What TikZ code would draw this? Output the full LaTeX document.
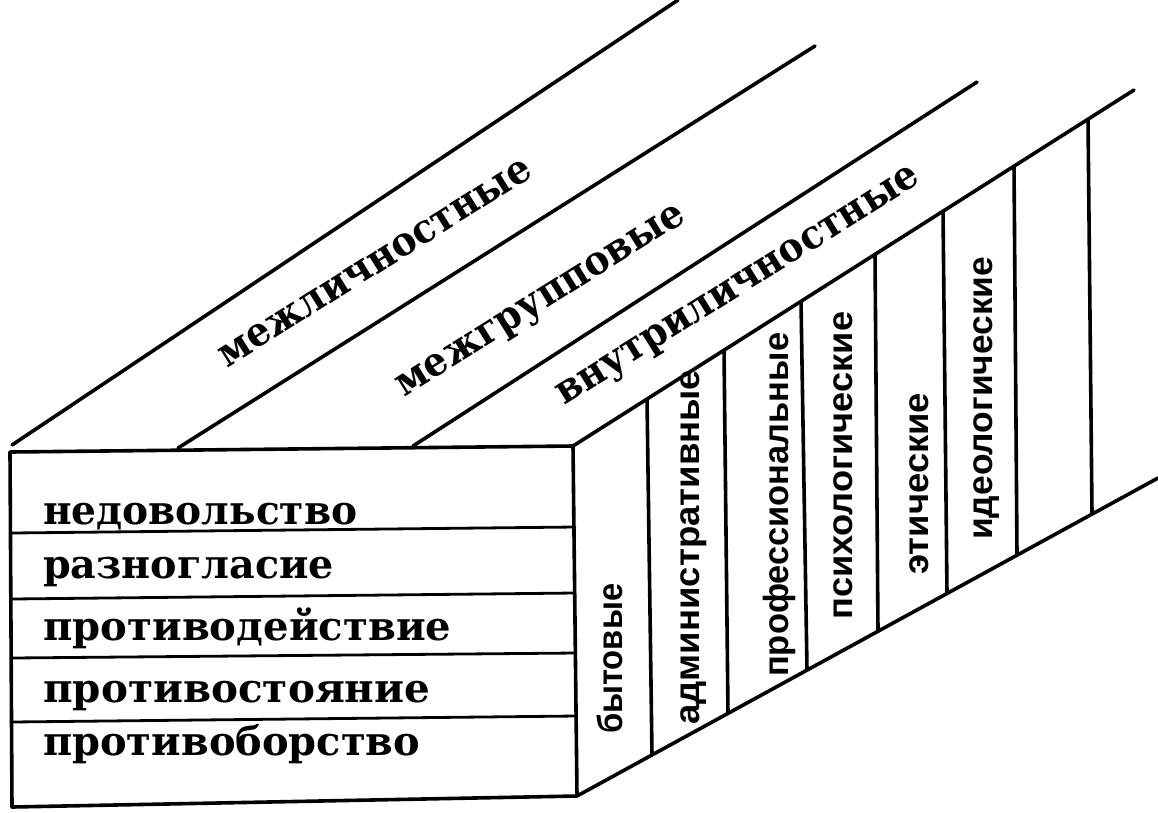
\documentclass[tikz,border=0pt]{standalone}
\usepackage{graphicx}
\usepackage{fontspec}
\setmainfont{DejaVu Serif}
\newfontfamily\vsans{Liberation Sans}
\newcommand{\fitw}[2]{\resizebox{#1pt}{\height}{#2}}
\tikzset{
  edge/.style={line width=3.6pt, line cap=round, line join=round},
  sep/.style={line width=2.8pt, line cap=round},
  rowtext/.style={anchor=base west, inner sep=0pt, font=\fontsize{40}{48}\selectfont\bfseries},
  toptext/.style={anchor=base, inner sep=0pt, rotate=32, font=\fontsize{40}{48}\selectfont\bfseries},
  sidetext/.style={anchor=base west, inner sep=0pt, rotate=90, font=\vsans\fontsize{35}{42}\selectfont\bfseries},
}
\begin{document}
\begin{tikzpicture}[x=1pt, y=-1pt]
\useasboundingbox (0,0) rectangle (1158,812);
% front box corners
\coordinate (TL) at (10,452);
\coordinate (TR) at (573,446);
\coordinate (BR) at (577,796);
\coordinate (BL) at (12,807);
% divider ends
\coordinate (L1) at (12,533); \coordinate (R1) at (575,527);
\coordinate (L2) at (12,599); \coordinate (R2) at (575,593);
\coordinate (L3) at (12,658); \coordinate (R3) at (576,653);
\coordinate (L4) at (12,722); \coordinate (R4) at (576,716);
% diagonal strips on top
\coordinate (A0) at (12,445); \coordinate (A1) at (678,0);
\coordinate (B0) at (178,448); \coordinate (B1) at (815,46);
\coordinate (C0) at (413,446); \coordinate (C1) at (977,82);
\coordinate (D1) at (1134,90);
\coordinate (E1) at (1158,478);
% column lines of the side face
\coordinate (V1t) at (647,399.0);  \coordinate (V1b) at (652,755.0);
\coordinate (V2t) at (724,350.2);  \coordinate (V2b) at (728,713.4);
\coordinate (V3t) at (801,301.3);  \coordinate (V3b) at (807,670.1);
\coordinate (V4t) at (875,254.4);  \coordinate (V4b) at (878,631.3);
\coordinate (V5t) at (943,211.2);  \coordinate (V5b) at (947,593.5);
\coordinate (V6t) at (1014,166.1); \coordinate (V6b) at (1017,555.2);
\coordinate (V7t) at (1088,119.2); \coordinate (V7b) at (1092,514.1);

\draw[edge] (TL) -- (TR) -- (BR) -- (BL) -- cycle;
\foreach \i in {1,...,4} \draw[sep] (L\i) -- (R\i);
\draw[edge] (A0) -- (A1);
\draw[edge] (B0) -- (B1);
\draw[edge] (C0) -- (C1);
\draw[edge] (TR) -- (D1);
\draw[edge] (BR) -- (E1);
\foreach \i in {1,...,7} \draw[edge] (V\i t) -- (V\i b);

% front face texts
\node[rowtext] (t1) at (43,524) {\fitw{314}{недовольство}};
\node[rowtext] (t2) at (43,578) {\fitw{291}{разногласие}};
\node[rowtext] (t3) at (43,640) {\fitw{408}{противодействие}};
\node[rowtext] (t4) at (43,702) {\fitw{387}{противостояние}};
\node[rowtext] (t5) at (43,755) {\fitw{377}{противоборство}};

% top strip texts
\node[toptext] (s1) at (381,272) {\fitw{363}{межличностные}};
\node[toptext] (s2) at (546,309) {\fitw{334}{межгрупповые}};
\node[toptext] (s3) at (743,294) {\fitw{422}{внутриличностные}};

% side column texts
\node[sidetext] (c1) at (622,734) {\fitw{150}{бытовые}};
\node[sidetext] (c2) at (699,725) {\fitw{355}{административные}};
\node[sidetext] (c3) at (788,677) {\fitw{344}{профессиональные}};
\node[sidetext] (c4) at (852,620) {\fitw{308}{психологические}};
\node[sidetext] (c5) at (928,575) {\fitw{182}{этические}};
\node[sidetext] (c6) at (992,540) {\fitw{283}{идеологические}};
\end{tikzpicture}
\end{document}
